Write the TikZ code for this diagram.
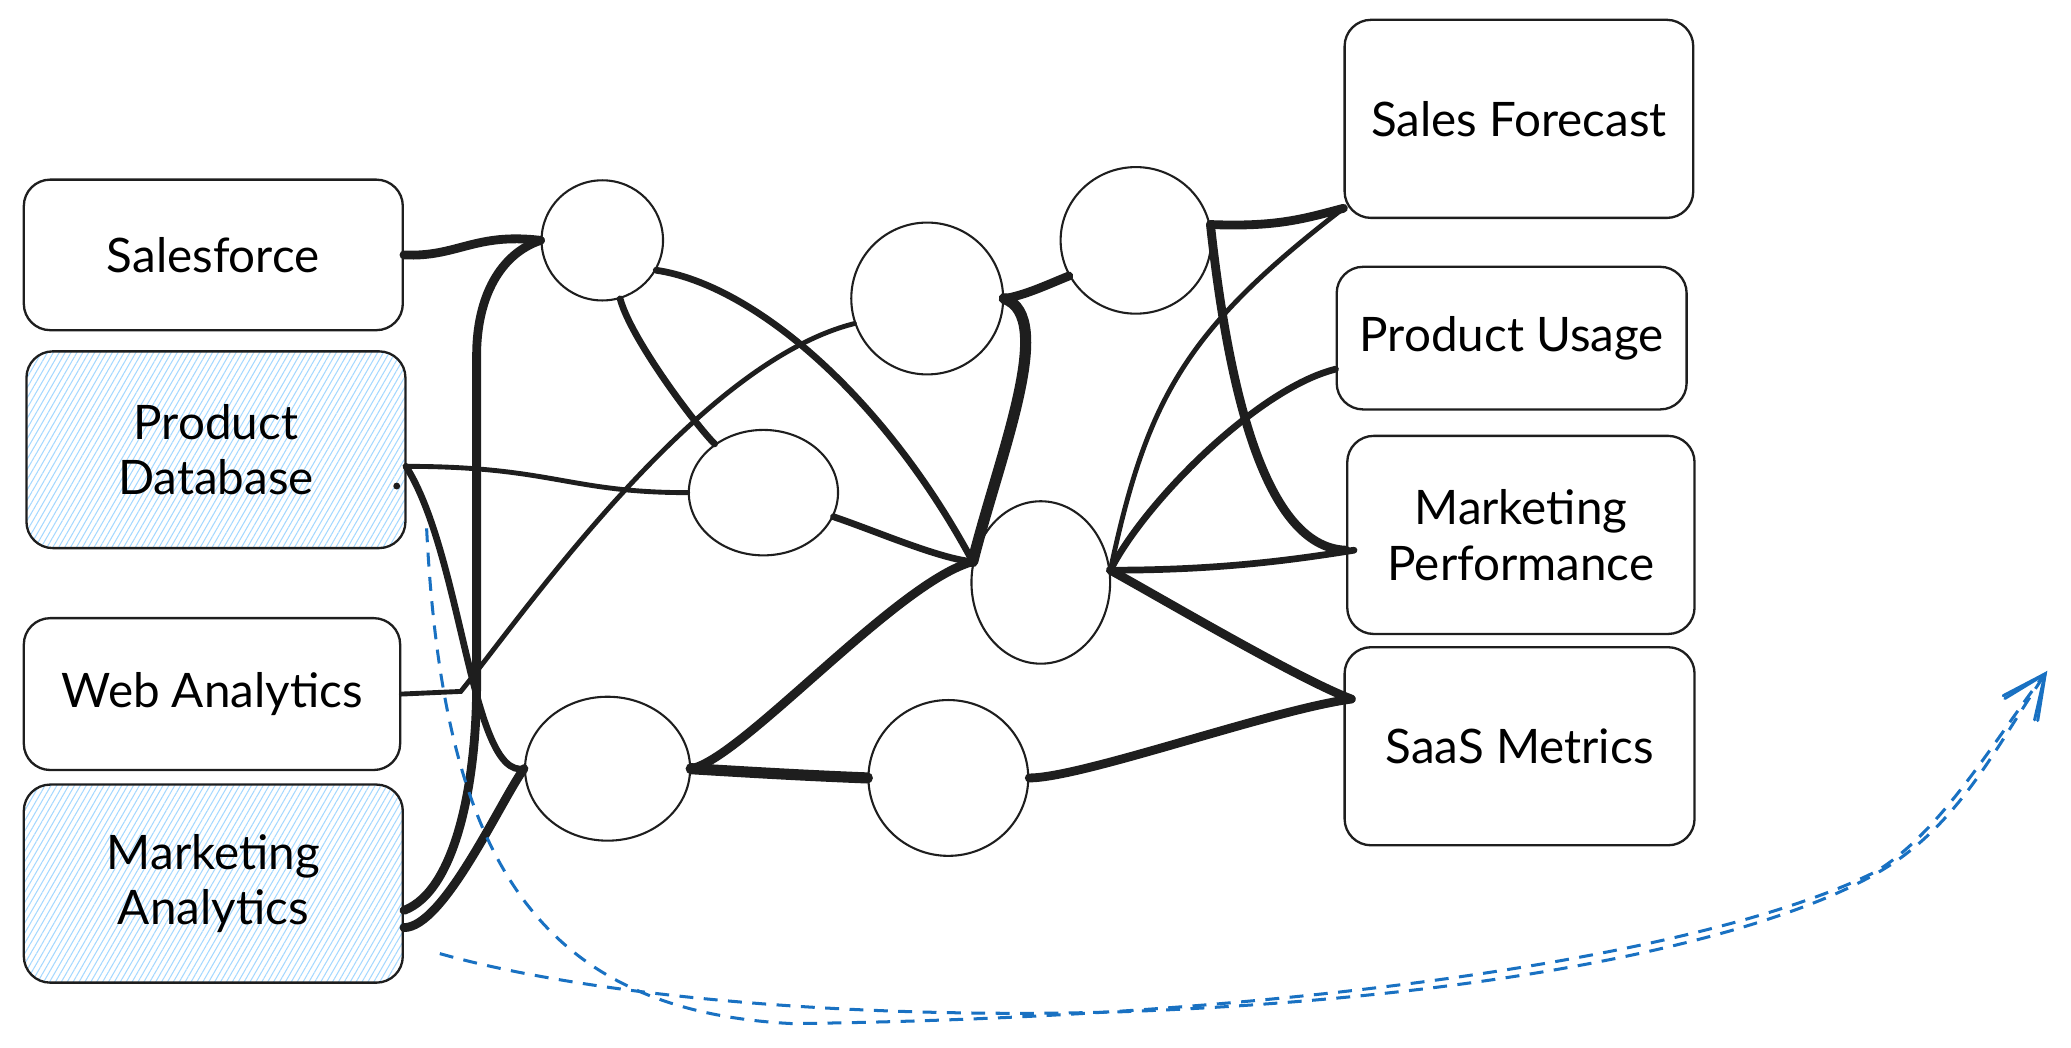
\documentclass[tikz,border=0pt]{standalone}
\usepackage{fontspec}
\setmainfont{Lato}
\usepackage{tikz}
\usetikzlibrary{arrows.meta, shapes.geometric, patterns.meta}
\definecolor{ink}{HTML}{1E1E1E}
\definecolor{flowblue}{HTML}{1971C2}
\definecolor{hatchblue}{HTML}{A5D8FF}
\tikzset{
  >={Straight Barb[length=6.5mm, width=6mm, line cap=round]},
  src/.style={draw=ink, line width=1pt, rounded corners=4mm, align=center, inner sep=4pt, font=\fontsize{20.5}{24}\selectfont},
  hatched/.style={pattern={Lines[angle=60, distance=2.2pt, line width=0.45pt]}, pattern color=hatchblue},
  hub/.style={draw=ink, ellipse, line width=0.9pt, inner sep=0pt},
  wire/.style={draw=ink, line width=2.9pt, line cap=round},
  heavy/.style={wire, line width=3.8pt},
  bulky/.style={wire, line width=4.8pt},
  thinwire/.style={wire, line width=2.1pt},
  flow/.style={draw=flowblue, line width=1.3pt, dash pattern=on 6pt off 4.5pt, ->},
}

\begin{document}
\begin{tikzpicture}[x=0.02cm, y=-0.02cm]
  \useasboundingbox (0,0) rectangle (1568,793);

  \node[src, minimum width=5.74cm, minimum height=2.28cm] (sales) at (161.5,193) {Salesforce};
  \node[src, hatched, minimum width=5.74cm, minimum height=2.98cm] (proddb) at (163.5,340.5) {Product\\Database};
  \node[src, minimum width=5.70cm, minimum height=2.30cm] (web) at (160.5,525.5) {Web Analytics};
  \node[src, hatched, minimum width=5.74cm, minimum height=3cm] (mktg) at (161.5,669) {Marketing\\Analytics};

  \node[src, minimum width=5.28cm, minimum height=3cm] (forecast) at (1150,90) {Sales Forecast};
  \node[src, minimum width=5.30cm, minimum height=2.16cm] (usage) at (1144.5,256) {Product Usage};
  \node[src, minimum width=5.26cm, minimum height=3cm] (perf) at (1151.5,405) {Marketing\\Performance};
  \node[src, minimum width=5.30cm, minimum height=3cm] (saas) at (1150.5,565) {SaaS Metrics};

  \node[hub, minimum width=1.84cm, minimum height=1.82cm] (h1) at (456,182) {};
  \node[hub, minimum width=2.26cm, minimum height=1.90cm] (h2) at (578,373) {};
  \node[hub, minimum width=2.30cm, minimum height=2.30cm] (h3) at (702,226) {};
  \node[hub, minimum width=2.28cm, minimum height=2.22cm] (h4) at (860,182) {};
  \node[hub, minimum width=2.10cm, minimum height=2.46cm] (h5) at (788,441) {};
  \node[hub, minimum width=2.50cm, minimum height=2.18cm] (h6) at (460,582) {};
  \node[hub, minimum width=2.42cm, minimum height=2.36cm] (h7) at (718,589) {};

  \fill[ink] ([xshift=-0.14cm, yshift=-0.55cm]proddb.east) circle (2.6);

  \draw[heavy] (sales.east) .. controls +(40,2) and +(-50,-6) .. (h1.west);
  \draw[heavy] (mktg.-8) .. controls +(40,-15) and +(0,70) .. ++(55,-170) -- ++(0,-250) .. controls +(0,-45) and +(-30,10) .. (h1.west);
  \draw[wire] (proddb.-5) .. controls +(43,68) and +(-40,8) .. (h6.west);
  \draw[heavy] (mktg.-13) .. controls +(30,0) and +(-18,25) .. (h6.west);
  \draw[thinwire] (proddb.-5) .. controls +(110,0) and +(-90,0) .. (h2.west);
  \draw[thinwire] (web.east) -- ++(45,-2) .. controls +(45,-55) and +(-120,30) .. (h3.199);

  \draw[wire] (h1.-73) .. controls +(8,30) and +(-15,-15) .. (h2.135);
  \draw[wire] (h1.-29) .. controls +(74,11) and +(-67,-125) .. (h5.163);
  \draw[wire] (h2.-19) .. controls +(30,10) and +(-25,-2) .. (h5.163);
  \draw[heavy] (h6.east) .. controls +(38,-7) and +(-57,15) .. (h5.163);
  \draw[bulky] (h6.east) .. controls +(50,3) and +(-50,-2) .. (h7.west);
  \draw[heavy] (h3.east) .. controls +(15,-2) and +(-15,6) .. (h4.208);
  \draw[bulky] (h3.east) .. controls +(40,14) and +(20,-80) .. (h5.163);

  \draw[heavy] (h4.12) .. controls +(50,2) and +(-30,8) .. (forecast.207);
  \draw[heavy] (h4.12) .. controls +(12,110) and +(-65,-2) .. (perf.185);
  \draw[wire] (h5.10) .. controls +(80,0) and +(-50,8) .. ([xshift=0.12cm]perf.185);
  \draw[thinwire] (h5.10) .. controls +(28,-132) and +(-118,91) .. (forecast.207);
  \draw[wire] (h5.10) .. controls +(25,-50) and +(-60,15) .. (usage.190);
  \draw[heavy] (h5.10) .. controls +(40,22) and +(-40,-15) .. ([xshift=0.12cm]saas.165);
  \draw[heavy] (h7.east) .. controls +(40,0) and +(-60,8) .. ([xshift=0.12cm]saas.165);

  \coordinate (tailA) at (323,400);
  \coordinate (tailB) at (333,722);
  \coordinate (tip) at (1550,508);
  \draw[flow] (tailA) .. controls (335,640) and (400,765) .. (600,775) .. controls (1000,770) and (1300,720) .. (1420,660) .. controls (1470,630) and (1510,560) .. (tip);
  \draw[flow] (tailB) .. controls (450,755) and (650,772) .. (850,766) .. controls (1150,755) and (1370,705) .. (1445,645) .. controls (1490,610) and (1515,560) .. (tip);
\end{tikzpicture}
\end{document}
